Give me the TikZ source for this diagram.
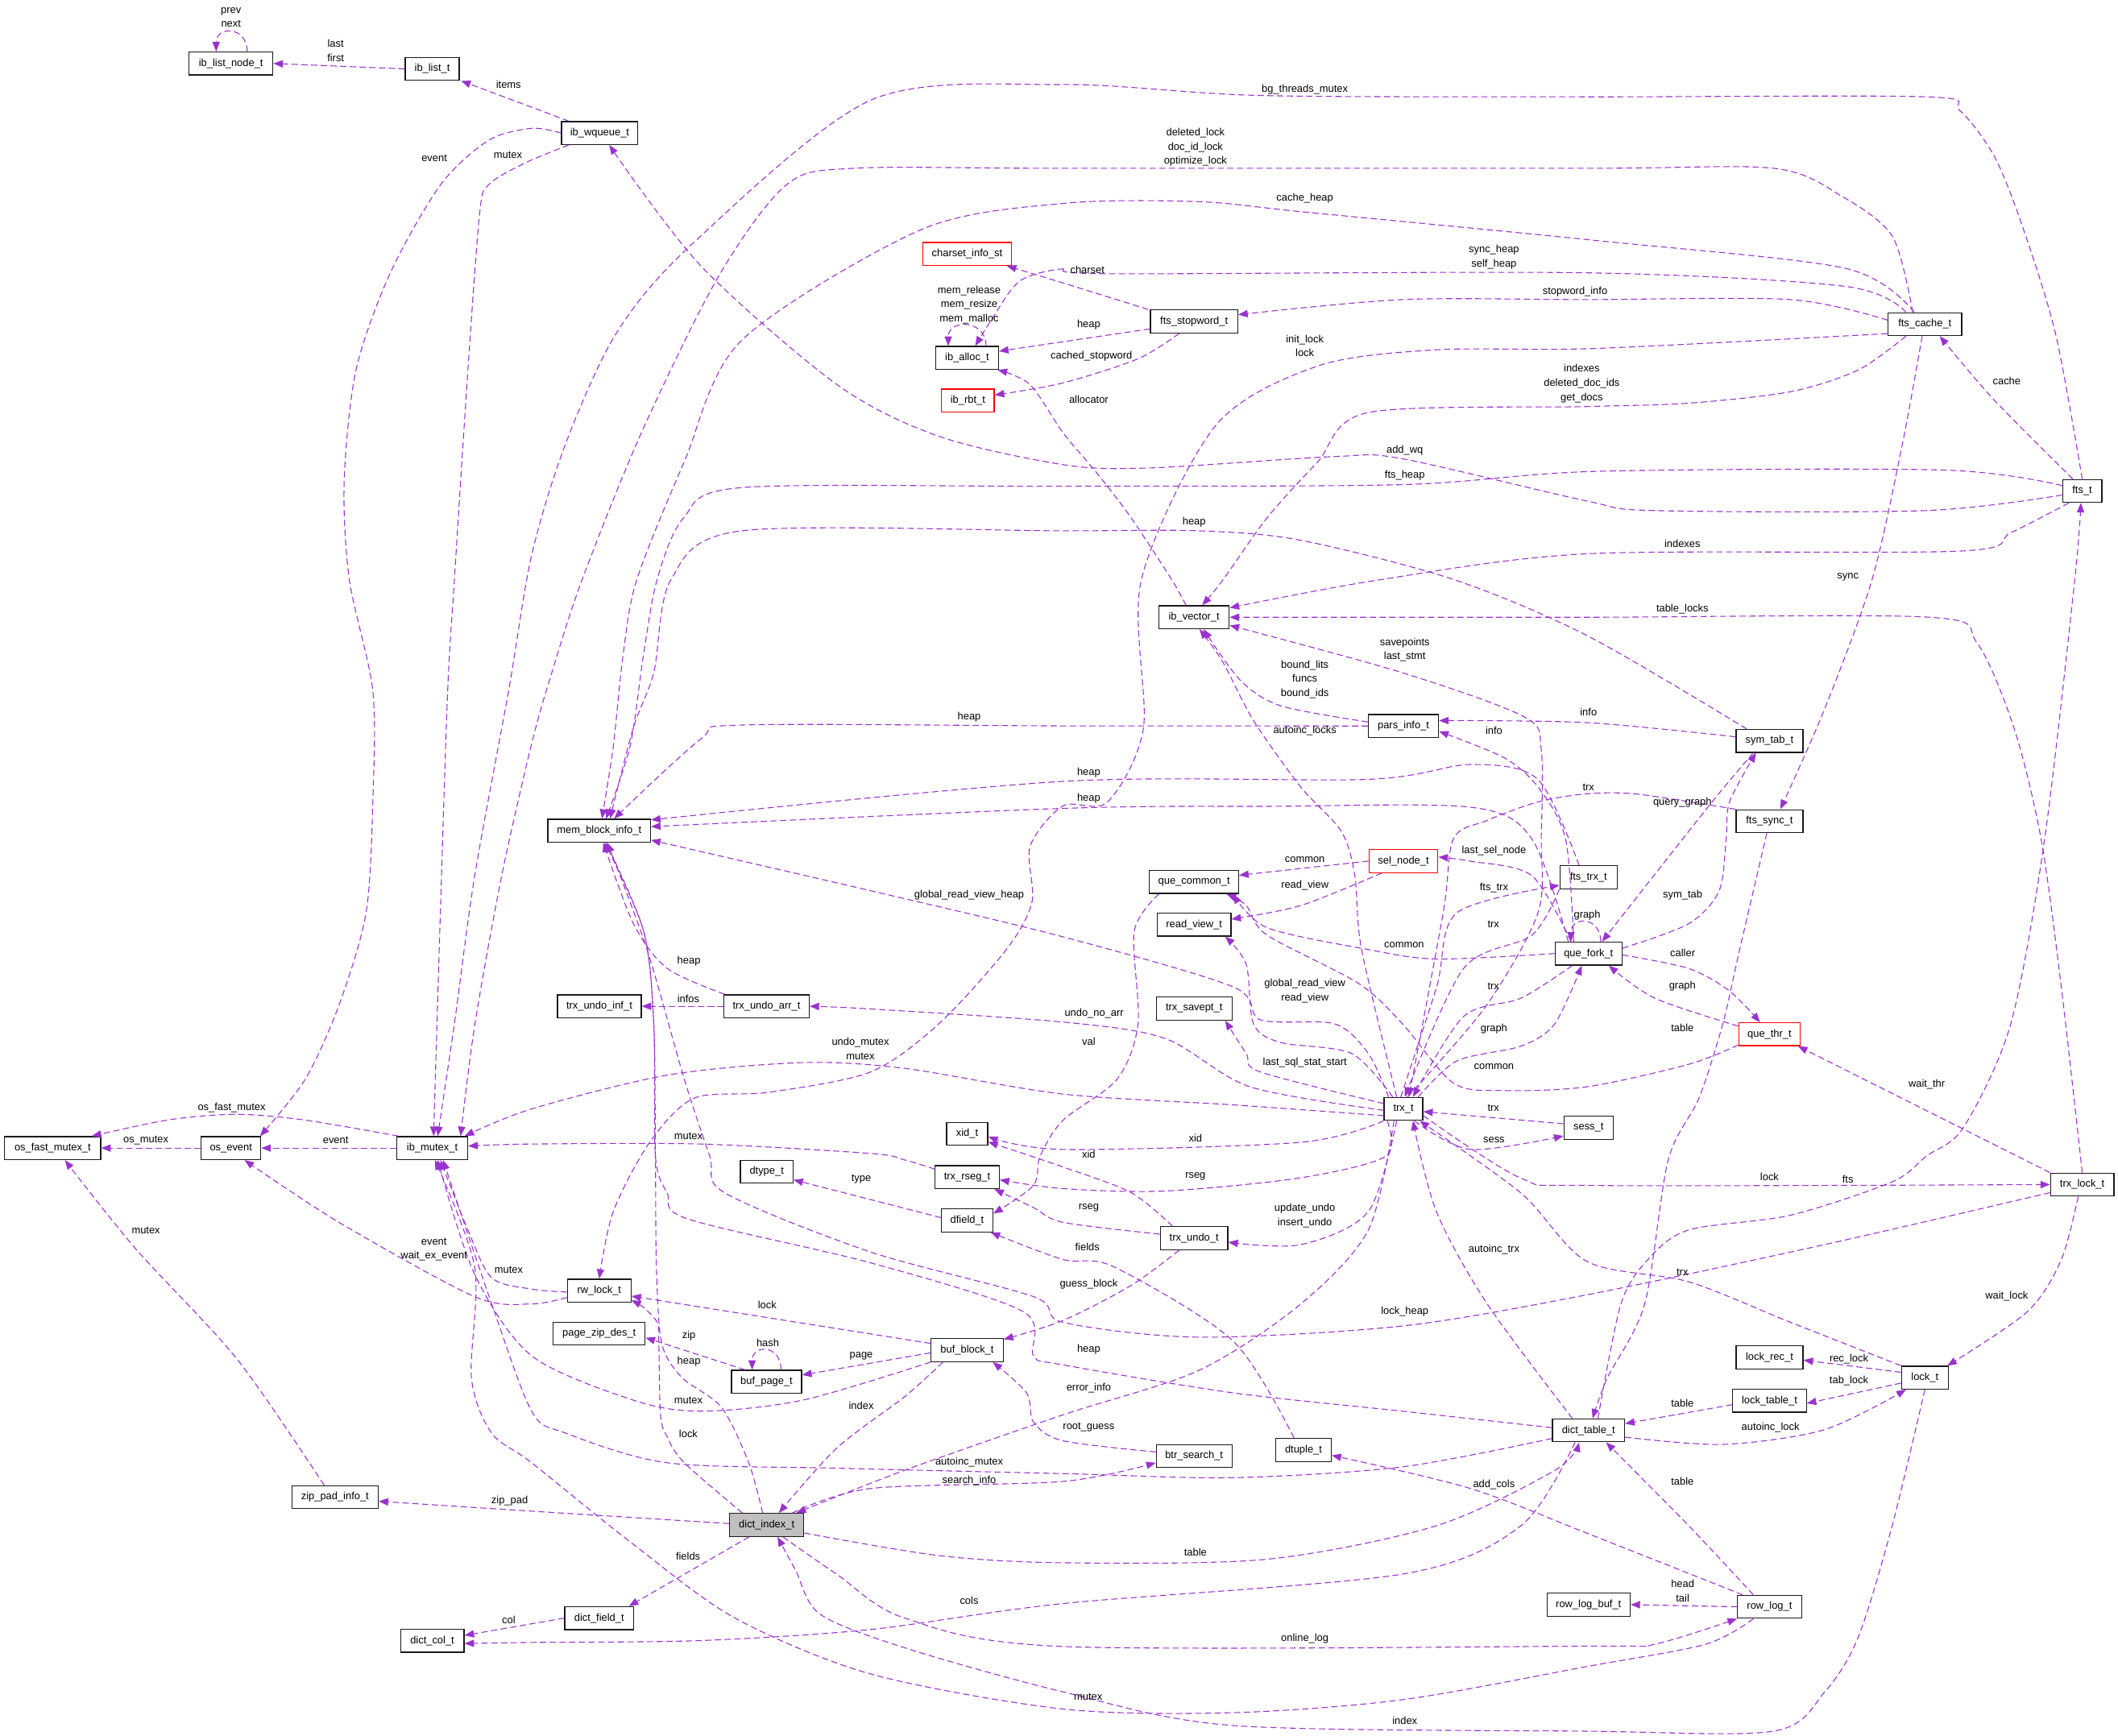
\documentclass[tikz,border=0pt]{standalone}
\usepackage{fontspec}
\setmainfont{Liberation Sans}
\usetikzlibrary{arrows.meta}
\definecolor{edgec}{HTML}{9A32CD}
\newcommand\dxfont{\fontsize{7.7}{10.5}\selectfont}
\begin{document}
\begin{tikzpicture}[x=1pt,y=-1pt,
  box/.style={draw=black!90, line width=0.75pt, rectangle, minimum height=17pt, inner xsep=1pt, inner ysep=0pt, font=\dxfont, fill=white},
  rbox/.style={box, draw=red},
  gbox/.style={box, fill=black!25},
  lnk/.style={draw=edgec, line width=0.65pt, dash pattern=on 4.6pt off 2.6pt, -{Triangle[length=7pt,width=5.4pt]}},
  lbl/.style={font=\dxfont, align=center, inner sep=0pt}]
\useasboundingbox[fill=white] (0,0) rectangle (1568,1285);
% ---------------- nodes
\node[box,minimum width=62pt] (listnode) at (171,47) {ib\_list\_node\_t};
\node[box,minimum width=40pt] (list) at (320,51) {ib\_list\_t};
\node[box,minimum width=56.5pt] (wqueue) at (444,98.5) {ib\_wqueue\_t};
\node[rbox,minimum width=66pt] (charset) at (716,188) {charset\_info\_st};
\node[box,minimum width=46.5pt] (alloc) at (716,265) {ib\_alloc\_t};
\node[rbox,minimum width=39pt] (rbt) at (716.5,296.5) {ib\_rbt\_t};
\node[box,minimum width=64.6pt] (stopword) at (884,238) {fts\_stopword\_t};
\node[box,minimum width=54.5pt] (cache) at (1425,240) {fts\_cache\_t};
\node[box,minimum width=29pt] (fts) at (1541.5,363.5) {fts\_t};
\node[box,minimum width=71pt] (osfast) at (39,850) {os\_fast\_mutex\_t};
\node[box,minimum width=44.3pt] (osevent) at (171,850) {os\_event};
\node[box,minimum width=52.5pt] (ibmutex) at (320,850) {ib\_mutex\_t};
\node[box,minimum width=76pt] (memblock) at (443.6,615) {mem\_block\_info\_t};
\node[box,minimum width=62pt] (undoinf) at (443.7,745) {trx\_undo\_inf\_t};
\node[box,minimum width=63pt] (undoarr) at (567.5,745) {trx\_undo\_arr\_t};
\node[box,minimum width=30.5pt] (xid) at (716,839.5) {xid\_t};
\node[box,minimum width=52pt] (vector) at (884,457) {ib\_vector\_t};
\node[box,minimum width=52pt] (parsinfo) at (1039,537.5) {pars\_info\_t};
\node[rbox,minimum width=51pt] (selnode) at (1039,637.5) {sel\_node\_t};
\node[box,minimum width=66pt] (quecommon) at (884,653) {que\_common\_t};
\node[box,minimum width=54.5pt] (readview) at (884,684.5) {read\_view\_t};
\node[box,minimum width=56pt] (savept) at (884,746.7) {trx\_savept\_t};
\node[box,minimum width=28.6pt] (trx) at (1039,821) {trx\_t};
\node[box,minimum width=42.4pt] (ftstrx) at (1176,649.5) {fts\_trx\_t};
\node[box,minimum width=49.6pt] (quefork) at (1176,706) {que\_fork\_t};
\node[box,minimum width=36.4pt] (sess) at (1176,835) {sess\_t};
\node[box,minimum width=49.6pt] (symtab) at (1310,548.5) {sym\_tab\_t};
\node[box,minimum width=49.6pt] (ftssync) at (1310,608) {fts\_sync\_t};
\node[rbox,minimum width=45.5pt] (quethr) at (1310,765.7) {que\_thr\_t};
\node[box,minimum width=64pt] (zippad) at (248,1108.5) {zip\_pad\_info\_t};
\node[box,minimum width=47pt] (dictcol) at (320,1214.8) {dict\_col\_t};
\node[box,minimum width=39pt] (dtype) at (567.6,867.5) {dtype\_t};
\node[box,minimum width=47.5pt] (rseg) at (716,871.5) {trx\_rseg\_t};
\node[box,minimum width=38pt] (dfield) at (716,903.5) {dfield\_t};
\node[box,minimum width=47pt] (rwlock) at (443.6,955.6) {rw\_lock\_t};
\node[box,minimum width=68pt] (pagezip) at (443.6,987.4) {page\_zip\_des\_t};
\node[box,minimum width=52pt] (bufpage) at (567.5,1023) {buf\_page\_t};
\node[box,minimum width=53.5pt] (bufblock) at (716,999.6) {buf\_block\_t};
\node[gbox,minimum width=55pt] (dictindex) at (567.6,1129) {dict\_index\_t};
\node[box,minimum width=51pt] (dictfield) at (443.6,1198) {dict\_field\_t};
\node[box,minimum width=50pt] (trxundo) at (884,916.7) {trx\_undo\_t};
\node[box,minimum width=56pt] (btrsearch) at (884,1078) {btr\_search\_t};
\node[box,minimum width=41pt] (dtuple) at (965,1073.5) {dtuple\_t};
\node[box,minimum width=53.4pt] (dicttable) at (1176,1059) {dict\_table\_t};
\node[box,minimum width=61.5pt] (rowlogbuf) at (1176,1188) {row\_log\_buf\_t};
\node[box,minimum width=47pt] (trxlock) at (1541.5,877) {trx\_lock\_t};
\node[box,minimum width=49.6pt] (lockrec) at (1310,1005) {lock\_rec\_t};
\node[box,minimum width=54.5pt] (locktable) at (1310,1037) {lock\_table\_t};
\node[box,minimum width=34.5pt] (lock) at (1425,1020) {lock\_t};
\node[box,minimum width=47.4pt] (rowlog) at (1310,1189.6) {row\_log\_t};
% ---------------- edges
\draw[lnk] ([xshift=12pt]listnode.north) .. controls +(0,-19) and +(0,-19) .. ([xshift=-11pt]listnode.north);
\draw[lnk] plot[smooth] coordinates {(list.west) (listnode.east)};
\draw[lnk] plot[smooth] coordinates {([xshift=-23pt]wqueue.north) ([xshift=1pt]list.south east)};
\draw[lnk] plot[smooth] coordinates {(wqueue.west) (393.6,95) (361.5,104) (326,137) (288.7,202.6) (263.6,273.8) (254.8,356) (258.6,429) (276,511.6) (276,593.7) (271,675.8) (251,744) (226,799) ([xshift=-1pt]osevent.north east)};
\draw[lnk] plot[smooth] coordinates {([xshift=-23pt]wqueue.south) (389,120.5) (361.5,137) (355,159) (346.4,274) (336.4,429) (331.4,511.6) (326,675.8) ([xshift=1pt]ibmutex.north)};
\draw[lnk] plot[smooth] coordinates {(fts.north) (1521.6,246.5) (1496,164) (1476,115) (1451,82) (1426,71.7) (1175,71.7) (933,70.7) (787,62.6) (645,74) (512,181) (456.4,246.5) (418.7,328.6) (393.6,411) (376.5,511.6) (351.5,648) (336.4,758) ([xshift=4pt]ibmutex.north)};
\draw[lnk] plot[smooth] coordinates {([xshift=-9pt]cache.north) (1401,175) (1363,145) (1313,124.6) (1175,124.6) (787,124.6) (632,124.6) (582,137) (531.7,205) (475,320) (431,429) (408.5,498) (393.6,550.5) (371.5,648) (351.6,758) ([xshift=21pt]ibmutex.north)};
\draw[lnk] plot[smooth] coordinates {([xshift=-8pt]cache.north) (1366,198.6) (1181,178) (966,157) (887,149.3) (787,150.6) (682,170) (549,252) (506.4,342.3) (471.5,429) (461.4,484) (454,552.6) ([xshift=2pt]memblock.north)};
\draw[lnk] plot[smooth] coordinates {([xshift=-14pt]cache.north) (1366,212) (1175,202) (820,202.7) (787,199) (755,208) (734.8,235.5) ([xshift=6pt]alloc.north)};
\draw[lnk] plot[smooth] coordinates {([xshift=-34pt]stopword.north) (787,209.5) ([xshift=-4pt]charset.south east)};
\draw[lnk] ([xshift=14pt]alloc.north) .. controls +(0,-20) and +(0,-20) .. ([xshift=-14pt]alloc.north);
\draw[lnk] plot[smooth] coordinates {([yshift=-5.5pt]stopword.west) ([yshift=5pt]alloc.east)};
\draw[lnk] plot[smooth] coordinates {([xshift=-11pt]stopword.south) (842.5,265.6) (787,283.5) ([yshift=4pt]rbt.east)};
\draw[lnk] plot[smooth] coordinates {([yshift=3pt]cache.west) (1325.5,221.8) (1175,221.8) (1038,221.8) ([yshift=5pt]stopword.east)};
\draw[lnk] plot[smooth] coordinates {([yshift=-7pt]cache.west) (1181,258) (1063,259) (975.5,271) (900,315) (845,429) (846.5,539) (820,593.7) (787,596.6) (762.6,626.6) (764,667.7) (745,703) (695,758) (644.6,793.6) (569,808.7) (514,813) (481,845.7) (454,897) (rwlock.north)};
\draw[lnk] plot[smooth] coordinates {([xshift=-14pt]cache.south) (1375.7,273.9) (1325.5,290) (1250,298.5) (1175,301) (1013,305.4) (975.5,342) (938,383.4) (905.3,429.4) ([xshift=6pt]vector.north)};
\draw[lnk] plot[smooth] coordinates {([xshift=-7pt]fts.north) (1476,295.8) ([xshift=11pt]cache.south)};
\draw[lnk] plot[smooth] coordinates {([yshift=-3pt]fts.west) (1426,378) (1225,378) (1175,371) (1038,339.6) (988,338) (850,346.5) (787,344) (695,323) (620,285) (519,197) ([xshift=7pt]wqueue.south)};
\draw[lnk] plot[smooth] coordinates {([yshift=4pt]fts.west) (1438.6,348) (1181,349) (1038,358.8) (787,360) (549,361) (506,383.5) (486.5,429) (476.5,484) (466.4,552.6) ([xshift=5pt]memblock.north)};
\draw[lnk] plot[smooth] coordinates {([xshift=-10pt]fts.south) (1488.7,394.3) (1451,408) (1175,410) (1020.5,429.4) ([yshift=7pt]vector.east)};
\draw[lnk] plot[smooth] coordinates {([xshift=-17pt]symtab.north) (1175,470.6) (1076,429) (963,400) (887.5,393) (787,393) (549,393) (496.6,429.4) (484,498) (468.8,539) ([xshift=8pt]memblock.north)};
\draw[lnk] plot[smooth] coordinates {([yshift=3pt]parsinfo.west) (948,522.5) (918,503.4) ([xshift=7pt]vector.south)};
\draw[lnk] plot[smooth] coordinates {([xshift=-5pt]trx.north) (1008,703) (1003,648.3) (993,615.5) (963,582.7) (928,533.5) (905,489.7) ([xshift=4pt]vector.south)};
\draw[lnk] plot[smooth] coordinates {([xshift=3pt]trx.north) (1100,745) (1138.6,675.8) (1141,621) (1141,555) (1128.6,530.8) (1038,498) ([yshift=-6pt]vector.east)};
\draw[lnk] plot[smooth] coordinates {(parsinfo.west) (787,537.4) (549,536.8) (519,547) ([xshift=11pt]memblock.north)};
\draw[lnk] plot[smooth] coordinates {([xshift=-7pt]ftstrx.north) (1138.5,577) (1088.5,566) (1013,577) (787,578.5) ([yshift=8pt]memblock.east)};
\draw[lnk] plot[smooth] coordinates {([xshift=-15pt]quefork.north) (1134,621) (1088.5,597.6) (938,597) (787,598.5) ([yshift=3pt]memblock.east)};
\draw[lnk] plot[smooth] coordinates {([xshift=-11pt]trx.north) (1013,780) (988,758) (933,755) (912.8,730.6) (787,693.6) (644.7,659.5) ([yshift=-7pt]memblock.east)};
\draw[lnk] plot[smooth] coordinates {([xshift=-8pt]trx.north) (1000.6,780) (948,771.8) (928,758) (922.6,714) ([xshift=23pt]readview.south)};
\draw[lnk] plot[smooth] coordinates {([yshift=4pt]trx.west) (933,793.6) (922.6,780) ([xshift=23pt]savept.south)};
\draw[lnk] plot[smooth] coordinates {([yshift=-1pt]trx.west) (925.3,804.6) (862.4,768.8) (787,756.7) (644.7,747) (undoarr.east)};
\draw[lnk] plot[smooth] coordinates {([yshift=-5pt]trx.west) (912.8,818) (787,810) (669.8,791) (594.4,786.7) (494,796) (393.6,821) ([xshift=24pt]ibmutex.north)};
\draw[lnk] plot[smooth] coordinates {(trx.south west) (963,845.7) (787,851) ([yshift=-2pt]xid.east)};
\draw[lnk] plot[smooth] coordinates {([xshift=-16pt]trxundo.north) (837.4,883) (787,864) ([yshift=-6pt]xid.east)};
\draw[lnk] plot[smooth] coordinates {([xshift=-12pt]trx.south) (1026,856) (963,872) (862.4,881.8) (787,880) ([yshift=-2pt]rseg.east)};
\draw[lnk] plot[smooth] coordinates {([yshift=3pt]trxundo.west) (787,905) (765,894) ([xshift=-4pt]rseg.south east)};
\draw[lnk] plot[smooth] coordinates {([xshift=-5pt]trx.south) (1013,897) (963,921.5) ([yshift=-3pt]trxundo.east)};
\draw[lnk] plot[smooth] coordinates {([xshift=8pt]trx.south) (1088.5,851) ([yshift=-6pt]sess.west)};
\draw[lnk] plot[smooth] coordinates {([yshift=3pt]sess.west) ([yshift=-2pt]trx.east)};
\draw[lnk] plot[smooth] coordinates {([xshift=-12pt]quefork.south) (1126,739) (1083.5,752.6) ([xshift=7pt]trx.north)};
\draw[lnk] plot[smooth] coordinates {([xshift=11pt]trx.north) (1078.5,785.5) (1126,774.5) (1151,758) ([xshift=-5pt]quefork.south)};
\draw[lnk] plot[smooth] coordinates {(ftstrx.south west) (1134,692.5) (1083.5,717) ([xshift=1pt]trx.north)};
\draw[lnk] plot[smooth] coordinates {([xshift=-2pt]trx.north) (1063.6,730.6) (1078.5,675.8) ([yshift=-6pt]ftstrx.west)};
\draw[lnk] plot[smooth] coordinates {(ftssync.north west) (1212.5,588) (1175,587.7) (1138.6,593.7) (1101,607.4) (1076,621) (1068.4,675.8) ([xshift=4pt]trx.north)};
\draw[lnk] plot[smooth] coordinates {([xshift=-13pt]quefork.north) (1134,648.3) (1088.5,637.6) ([yshift=3pt]selnode.east)};
\draw[lnk] plot[smooth] coordinates {([xshift=-16pt]selnode.south) (963,670.4) ([yshift=4pt]readview.east)};
\draw[lnk] plot[smooth] coordinates {(selnode.west) ([yshift=5pt]quecommon.east)};
\draw[lnk] plot[smooth] coordinates {([xshift=-11pt]quefork.north) (1159,621) (1138.6,582.7) (1113.5,561) ([yshift=-4pt]parsinfo.east)};
\draw[lnk] plot[smooth] coordinates {([yshift=3pt]symtab.west) (1175,535) ([yshift=4pt]parsinfo.east)};
\draw[lnk] plot[smooth] coordinates {([xshift=-12pt]symtab.south) (1265.3,596.4) ([xshift=10pt]quefork.north)};
\draw[lnk] plot[smooth] coordinates {([yshift=4pt]quefork.east) (1250,684) (1272.7,659.5) (1277.9,621) (1280.4,593.7) ([xshift=-10pt]symtab.south)};
\draw[lnk] ([xshift=9pt]quefork.north) .. controls +(0,-19) and +(0,-19) .. ([xshift=-13pt]quefork.north);
\draw[lnk] plot[smooth] coordinates {([yshift=-1pt]quefork.east) (1250,717) (1280,733.4) ([xshift=-7pt]quethr.north)};
\draw[lnk] plot[smooth] coordinates {([yshift=6pt]quethr.west) (1225,739) ([xshift=15pt]quefork.south)};
\draw[lnk] plot[smooth] coordinates {([yshift=-8pt]quethr.west) (1250,788) (1175,804.6) (1113.5,807.4) (1076,801.9) (1038.3,758) (1005.6,728) (938,692.3) (922.6,670.4) ([xshift=24pt]quecommon.south)};
\draw[lnk] plot[smooth] coordinates {(quefork.west) (1063.4,710) (1013,703) (938,686.8) ([xshift=29pt]quecommon.south)};
\draw[lnk] plot[smooth] coordinates {([xshift=-26pt]quecommon.south) (839.7,689.5) (842.5,758) (827,799) (787,829.3) (770,856) (765,877.7) ([yshift=5pt]dfield.east)};
\draw[lnk] plot[smooth] coordinates {([yshift=2pt]dfield.west) ([yshift=-6pt]dtype.east)};
\draw[lnk] plot[smooth] coordinates {([yshift=6pt]rseg.west) (669.8,858.8) (644.7,854) (519,847) (393.6,847) ([yshift=1.5pt]ibmutex.east)};
\draw[lnk] plot[smooth] coordinates {(ibmutex.west) (osevent.east)};
\draw[lnk] plot[smooth] coordinates {(osevent.west) (osfast.east)};
\draw[lnk] plot[smooth] coordinates {([xshift=-25pt]ibmutex.north) (226,829.3) (175.7,825) (125.5,829) ([xshift=29pt]osfast.north)};
\draw[lnk] plot[smooth] coordinates {([xshift=-8pt]zippad.north) (175.7,1006.5) (100.4,924.5) ([xshift=9pt]osfast.south)};
\draw[lnk] plot[smooth] coordinates {([yshift=-5pt]rwlock.west) (393.6,965.4) (351.4,960) (251,905) ([xshift=10pt]osevent.south)};
\draw[lnk] plot[smooth] coordinates {([yshift=-1pt]rwlock.west) (393.6,954.4) (364,946) (346.4,910.6) ([xshift=6pt]ibmutex.south)};
\draw[lnk] plot[smooth] coordinates {(bufblock.south west) (594.4,1036.6) (519,1044.8) (468.8,1036.6) (393.6,1003.8) (351.4,943.5) ([xshift=4pt]ibmutex.south)};
\draw[lnk] plot[smooth] coordinates {([yshift=-6pt]dicttable.west) (1038.3,1086) (912.8,1094) (787,1091) (619.6,1087) (494,1083) (418.7,1061) (393.6,1044.8) (364,965.4) ([xshift=8pt]ibmutex.south)};
\draw[lnk] plot[smooth] coordinates {([xshift=-12pt]rowlog.south) (1262.8,1217.3) (1175,1233.8) (1038.3,1258.4) (912.8,1268) (787,1265.3) (644.7,1239.4) (544.2,1198) (468.8,1143.3) (393.6,1083) (364,1061) (349,1020) (351.4,938) ([xshift=2pt]ibmutex.south)};
\draw[lnk] plot[smooth] coordinates {(lock.south) (1400.8,1129.6) (1375.7,1212) (1350.6,1253) (1313,1281.7) (1175,1281.7) (912.8,1277.5) (787,1252.6) (669.8,1220) (607,1195) (589,1162.6) ([xshift=8pt]dictindex.south)};
\draw[lnk] plot[smooth] coordinates {([xshift=12pt]dictindex.south) (619.6,1165.6) (669.8,1198) (787,1219) (1181,1218.7) (1225,1217.3) (rowlog.south west)};
\draw[lnk] plot[smooth] coordinates {([xshift=-20pt]rowlog.north) (1175,1135.2) (1088.5,1102) ([yshift=-4pt]dtuple.east)};
\draw[lnk] plot[smooth] coordinates {([xshift=-12pt]rowlog.north) (1250.2,1129.6) ([xshift=13pt]dicttable.south)};
\draw[lnk] plot[smooth] coordinates {(rowlog.west) (rowlogbuf.east)};
\draw[lnk] plot[smooth] coordinates {([yshift=-5pt]dicttable.east) (1275.4,1069.4) (1350.6,1058.5) ([xshift=-14pt]lock.south)};
\draw[lnk] plot[smooth] coordinates {([yshift=-3pt]locktable.west) ([yshift=5pt]dicttable.east)};
\draw[lnk] plot[smooth] coordinates {([yshift=-4pt]lock.west) ([yshift=-2pt]locktable.east)};
\draw[lnk] plot[smooth] coordinates {([yshift=4pt]lock.west) ([yshift=-2pt]lockrec.east)};
\draw[lnk] plot[smooth] coordinates {([xshift=-3pt]trxlock.south) (1526,932.6) (1501,971) ([xshift=-1pt]lock.north east)};
\draw[lnk] plot[smooth] coordinates {(lock.north west) (1325.5,979) (1250.2,949) (1175,934) (1126,883.3) ([xshift=12pt]trx.south)};
\draw[lnk] plot[smooth] coordinates {([xshift=-12pt]dicttable.north) (1101,965.4) (1063.4,897) ([xshift=7pt]trx.south)};
\draw[lnk] plot[smooth] coordinates {([yshift=-5pt]trx.east) (1126,872.3) (1181,877.7) (trxlock.west)};
\draw[lnk] plot[smooth] coordinates {(trxlock.north west) ([xshift=-2pt]quethr.south east)};
\draw[lnk] plot[smooth] coordinates {(trxlock.north) (1526,730.6) (1511,621) (1491,539) (1463.6,476) (1428.6,457) (1175,457) (vector.east)};
\draw[lnk] plot[smooth] coordinates {([yshift=-6pt]trxlock.west) (1350.6,921.5) (1175,958.6) (1038.3,981.7) (887.7,990) (787,979) (765.2,960) (644.7,927) (536.8,883.3) (525.4,855.8) (506.6,799) (479,703) ([xshift=6pt]memblock.south)};
\draw[lnk] plot[smooth] coordinates {([yshift=2pt]dicttable.west) (1038.3,1044.8) (912.8,1031.2) (787,1010.5) (765.2,1003.8) (757.4,971) (644.7,935) (509,902.4) (494,883.3) (485.2,855.8) (484,758) (476.5,689.5) ([xshift=5pt]memblock.south)};
\draw[lnk] plot[smooth] coordinates {([xshift=-3pt]dictindex.north) (554.3,1083) (534.2,1042) (505,1020) (490,995) (486,940) (485.2,856) (484,758) (476.5,689.5) ([xshift=4pt]memblock.south)};
\draw[lnk] plot[smooth] coordinates {([xshift=-18pt]dictindex.north) (506.6,1083) (494,1064) (489,1047.5) (487.7,992.8) (486.5,979) (476.5,968) ([yshift=-7pt]rwlock.east)};
\draw[lnk] plot[smooth] coordinates {([xshift=-31pt]undoarr.north) (494,717) (469,684) ([xshift=3pt]memblock.south)};
\draw[lnk] plot[smooth] coordinates {(undoarr.west) (undoinf.east)};
\draw[lnk] plot[smooth] coordinates {([yshift=5pt]bufblock.west) ([yshift=-4pt]rwlock.east)};
\draw[lnk] plot[smooth] coordinates {([yshift=-2pt]bufblock.west) ([yshift=5pt]bufpage.east)};
\draw[lnk] ([xshift=10.7pt]bufpage.north) .. controls +(0,-19) and +(0,-19) .. ([xshift=-10.7pt]bufpage.north);
\draw[lnk] plot[smooth] coordinates {([xshift=-16pt]bufpage.north) ([yshift=-3pt]pagezip.east)};
\draw[lnk] plot[smooth] coordinates {([xshift=-18pt]bufblock.south) (669.8,1034) (619.6,1072) ([xshift=9pt]dictindex.north)};
\draw[lnk] plot[smooth] coordinates {([xshift=-11pt]trxundo.south) (837.4,951.7) (787,977.6) ([yshift=8pt]bufblock.east)};
\draw[lnk] plot[smooth] coordinates {([yshift=3pt]btrsearch.west) (787,1066.7) (765.2,1053) (760,1031.2) ([xshift=19pt]bufblock.south)};
\draw[lnk] plot[smooth] coordinates {([xshift=19pt]dictindex.north) (644.7,1102) (787,1096.8) ([yshift=-5pt]btrsearch.west)};
\draw[lnk] plot[smooth] coordinates {([xshift=-7pt]trx.south) (1013,910.6) (963,965.4) (887.7,1014.5) (787,1047.5) (669.8,1088.5) ([xshift=22pt]dictindex.north)};
\draw[lnk] plot[smooth] coordinates {([yshift=-6pt]dictindex.east) (695,1151.7) (787,1157) (938,1154.4) (1063.4,1129.6) (1151.2,1088.5) ([xshift=-7pt]dicttable.south)};
\draw[lnk] plot[smooth] coordinates {([xshift=-10pt]dicttable.south) (1126,1129.6) (1038.3,1165.4) (787,1187.2) (644.7,1206.4) (519,1214.6) (393.6,1216) ([yshift=-2pt]dictcol.east)};
\draw[lnk] plot[smooth] coordinates {(dictfield.west) ([yshift=4pt]dictcol.east)};
\draw[lnk] plot[smooth] coordinates {([xshift=-13pt]dictindex.south) ([xshift=22pt]dictfield.north)};
\draw[lnk] plot[smooth] coordinates {([yshift=1pt]dictindex.west) (393.6,1118.8) ([yshift=-3pt]zippad.east)};
\draw[lnk] plot[smooth] coordinates {([xshift=-7pt]dtuple.north) (912.8,992.8) (824.8,938) (787,932.5) ([xshift=-2pt]dfield.south east)};
\draw[lnk] plot[smooth] coordinates {([xshift=-2pt]ftssync.south) (1287.9,703) (1275.4,758) (1257.8,813) (1235,858.8) (1217.6,965.4) (1190,1020) ([xshift=3pt]dicttable.north)};
\draw[lnk] plot[smooth] coordinates {([xshift=7pt]dicttable.north) (1200,965.4) (1220,932.5) (1250.2,910.6) (1325.5,899.7) (1400.8,875) (1426,856) (1453.6,834.7) (1488.6,758) (1513.7,621) (1536,429) ([xshift=-1pt]fts.south)};
\draw[lnk] plot[smooth] coordinates {([xshift=-2pt]cache.south) (1408.4,328.6) (1385.8,429.4) (1350.6,525.3) ([xshift=8pt]ftssync.north)};
\draw[lnk] plot[smooth] coordinates {([xshift=-6pt]vector.north) (867.6,429.4) (837.4,383.4) (812.3,350.6) (787,320.4) (762.6,284.8) ([xshift=-1pt]alloc.south east)};
% ---------------- labels
\node[lbl] (l1) at (171,12.9) {prev\\next};
\node[lbl] (l2) at (248.5,37.5) {last\\first};
\node[lbl] (l3) at (376.5,62.4) {items};
\node[lbl] (l4) at (321.5,117) {event};
\node[lbl] (l5) at (376,115) {mutex};
\node[lbl] (l6) at (966,66) {bg\_threads\_mutex};
\node[lbl] (l7) at (885,109) {deleted\_lock\\doc\_id\_lock\\optimize\_lock};
\node[lbl] (l8) at (966,147) {cache\_heap};
\node[lbl] (l9) at (1106,190.5) {sync\_heap\\self\_heap};
\node[lbl] (l10) at (805,200) {charset};
\node[lbl] (l11) at (717.5,225.7) {mem\_release\\mem\_resize\\mem\_malloc};
\node[lbl] (l12) at (806,240.7) {heap};
\node[lbl] (l13) at (808,263.8) {cached\_stopword};
\node[lbl] (l14) at (1166,216) {stopword\_info};
\node[lbl] (l15) at (966,256) {init\_lock\\lock};
\node[lbl] (l16) at (1171,284) {indexes\\deleted\_doc\_ids\\get\_docs};
\node[lbl] (l17) at (1485.6,282) {cache};
\node[lbl] (l18) at (1040,333.5) {add\_wq};
\node[lbl] (l19) at (1040,352) {fts\_heap};
\node[lbl] (l20) at (1245.5,402.6) {indexes};
\node[lbl] (l21) at (884,386.6) {heap};
\node[lbl] (l22) at (806,295.5) {allocator};
\node[lbl] (l23) at (966,503) {bound\_lits\\funcs\\bound\_ids};
\node[lbl] (l24) at (966,541) {autoinc\_locks};
\node[lbl] (l25) at (1040,481) {savepoints\\last\_stmt};
\node[lbl] (l26) at (717.5,531) {heap};
\node[lbl] (l27) at (806,572) {heap};
\node[lbl] (l28) at (806,591) {heap};
\node[lbl] (l29) at (717.5,662.5) {global\_read\_view\_heap};
\node[lbl] (l30) at (966,733.5) {global\_read\_view\\read\_view};
\node[lbl] (l31) at (966,787) {last\_sql\_stat\_start};
\node[lbl] (l32) at (810,750.6) {undo\_no\_arr};
\node[lbl] (l33) at (637,776.5) {undo\_mutex\\mutex};
\node[lbl] (l34) at (885,842.4) {xid};
\node[lbl] (l35) at (806,854.7) {xid};
\node[lbl] (l36) at (885,871) {rseg};
\node[lbl] (l37) at (806,894) {rseg};
\node[lbl] (l38) at (966,900) {update\_undo\\insert\_undo};
\node[lbl] (l39) at (1106,844) {sess};
\node[lbl] (l40) at (1105.6,820.5) {trx};
\node[lbl] (l41) at (1105.6,730) {trx};
\node[lbl] (l42) at (1106,761.6) {graph};
\node[lbl] (l43) at (1105.6,684.4) {trx};
\node[lbl] (l44) at (1106,657.5) {fts\_trx};
\node[lbl] (l45) at (1176,582.7) {trx};
\node[lbl] (l46) at (1106,630) {last\_sel\_node};
\node[lbl] (l47) at (966,655.5) {read\_view};
\node[lbl] (l48) at (966,636.7) {common};
\node[lbl] (l49) at (1106,541) {info};
\node[lbl] (l50) at (1176,527) {info};
\node[lbl] (l51) at (1245.5,594) {query\_graph};
\node[lbl] (l52) at (1245.7,662.5) {sym\_tab};
\node[lbl] (l53) at (1175,677.5) {graph};
\node[lbl] (l54) at (1245.7,705.6) {caller};
\node[lbl] (l55) at (1245.5,730) {graph};
\node[lbl] (l56) at (1106,790) {common};
\node[lbl] (l57) at (1039.5,699.5) {common};
\node[lbl] (l58) at (806,771) {val};
\node[lbl] (l59) at (637.6,873) {type};
\node[lbl] (l60) at (509.6,841) {mutex};
\node[lbl] (l61) at (248.5,844.3) {event};
\node[lbl] (l62) at (108,844.3) {os\_mutex};
\node[lbl] (l63) at (171.5,820) {os\_fast\_mutex};
\node[lbl] (l64) at (108,911) {mutex};
\node[lbl] (l65) at (321.3,925) {event\\wait\_ex\_event};
\node[lbl] (l66) at (376.6,940) {mutex};
\node[lbl] (l67) at (509.6,1036.8) {mutex};
\node[lbl] (l68) at (717.5,1082.5) {autoinc\_mutex};
\node[lbl] (l69) at (805.6,1256) {mutex};
\node[lbl] (l70) at (1040,1274) {index};
\node[lbl] (l71) at (966,1213) {online\_log};
\node[lbl] (l72) at (1106,1099) {add\_cols};
\node[lbl] (l73) at (1245.5,1097) {table};
\node[lbl] (l74) at (1245.7,1177.7) {head\\tail};
\node[lbl] (l75) at (1310.7,1057) {autoinc\_lock};
\node[lbl] (l76) at (1245.5,1039) {table};
\node[lbl] (l77) at (1368.8,1022.5) {tab\_lock};
\node[lbl] (l78) at (1368.8,1006) {rec\_lock};
\node[lbl] (l79) at (1485.6,959.4) {wait\_lock};
\node[lbl] (l80) at (1245.5,941.7) {trx};
\node[lbl] (l81) at (1106,925.4) {autoinc\_trx};
\node[lbl] (l82) at (1310,871) {lock};
\node[lbl] (l83) at (1426.4,802.8) {wait\_thr};
\node[lbl] (l84) at (1245.5,451) {table\_locks};
\node[lbl] (l85) at (1040,971) {lock\_heap};
\node[lbl] (l86) at (806,999) {heap};
\node[lbl] (l87) at (510,1008) {heap};
\node[lbl] (l88) at (509.6,1061.6) {lock};
\node[lbl] (l89) at (510,711.5) {heap};
\node[lbl] (l90) at (509.6,739.6) {infos};
\node[lbl] (l91) at (568,966) {lock};
\node[lbl] (l92) at (637.6,1003.8) {page};
\node[lbl] (l93) at (568.4,994) {hash};
\node[lbl] (l94) at (510,989) {zip};
\node[lbl] (l95) at (637.6,1040.4) {index};
\node[lbl] (l96) at (806,950.6) {guess\_block};
\node[lbl] (l97) at (806,1056.6) {root\_guess};
\node[lbl] (l98) at (717.5,1096) {search\_info};
\node[lbl] (l99) at (806,1027.6) {error\_info};
\node[lbl] (l100) at (885,1149) {table};
\node[lbl] (l101) at (717.5,1185) {cols};
\node[lbl] (l102) at (376.6,1199.4) {col};
\node[lbl] (l103) at (509.4,1152) {fields};
\node[lbl] (l104) at (377.3,1111) {zip\_pad};
\node[lbl] (l105) at (805,923) {fields};
\node[lbl] (l106) at (1245.5,761) {table};
\node[lbl] (l107) at (1368,873) {fts};
\node[lbl] (l108) at (1368,427) {sync};
\end{tikzpicture}
\end{document}
